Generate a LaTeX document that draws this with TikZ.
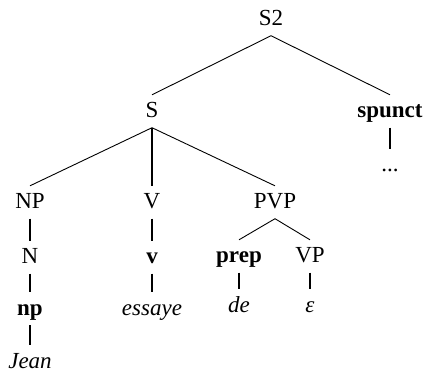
\documentclass[tikz,border=0pt]{standalone}
\usepackage{fontspec}
\setmainfont{Liberation Serif}
\begin{document}
\begin{tikzpicture}[x=1pt,y=-1pt,
  lab/.style={inner sep=0pt,anchor=base,text height=22.5pt,text depth=10pt,font=\fontsize{23}{27}\selectfont},
  thin/.style={line width=0.9pt},
  thick/.style={line width=2pt}]
\useasboundingbox (0,0) rectangle (428,373);
\node[lab] (S2) at (271,25.5) {S2};
\node[lab] (S) at (152,117.5) {S};
\node[lab] (spunct) at (390,117.5) {\textbf{spunct}};
\node[lab] (dots) at (390,171.5) {...};
\node[lab] (NP) at (30,208.5) {NP};
\node[lab] (V) at (152,208.5) {V};
\node[lab] (PVP) at (275,208.5) {PVP};
\node[lab] (N) at (30,263.5) {N};
\node[lab] (v) at (152,263.5) {\textbf{v}};
\node[lab] (prep) at (239,262.5) {\textbf{prep}};
\node[lab] (VP) at (310,262.5) {VP};
\node[lab] (np) at (30,315) {\textbf{np}};
\node[lab] (essaye) at (152,315) {\textit{essaye}};
\node[lab] (de) at (239,312) {\textit{de}};
\node[lab] (eps) at (310,312) {\textit{ε}};
\node[lab] (Jean) at (30,368) {\textit{Jean}};
\draw[thin] (S2.south) -- (S.north);
\draw[thin] (S2.south) -- (spunct.north);
\draw[thick] (spunct.south) -- (dots.north);
\draw[thin] (S.south) -- (NP.north);
\draw[thick] (S.south) -- (V.north);
\draw[thin] (S.south) -- (PVP.north);
\draw[thick] (NP.south) -- (N.north);
\draw[thick] (N.south) -- (np.north);
\draw[thick] (np.south) -- (Jean.north);
\draw[thick] (V.south) -- (v.north);
\draw[thick] (v.south) -- (essaye.north);
\draw[thin] (PVP.south) -- (prep.north);
\draw[thin] (PVP.south) -- (VP.north);
\draw[thick] (prep.south) -- (de.north);
\draw[thick] (VP.south) -- (eps.north);
\end{tikzpicture}
\end{document}
